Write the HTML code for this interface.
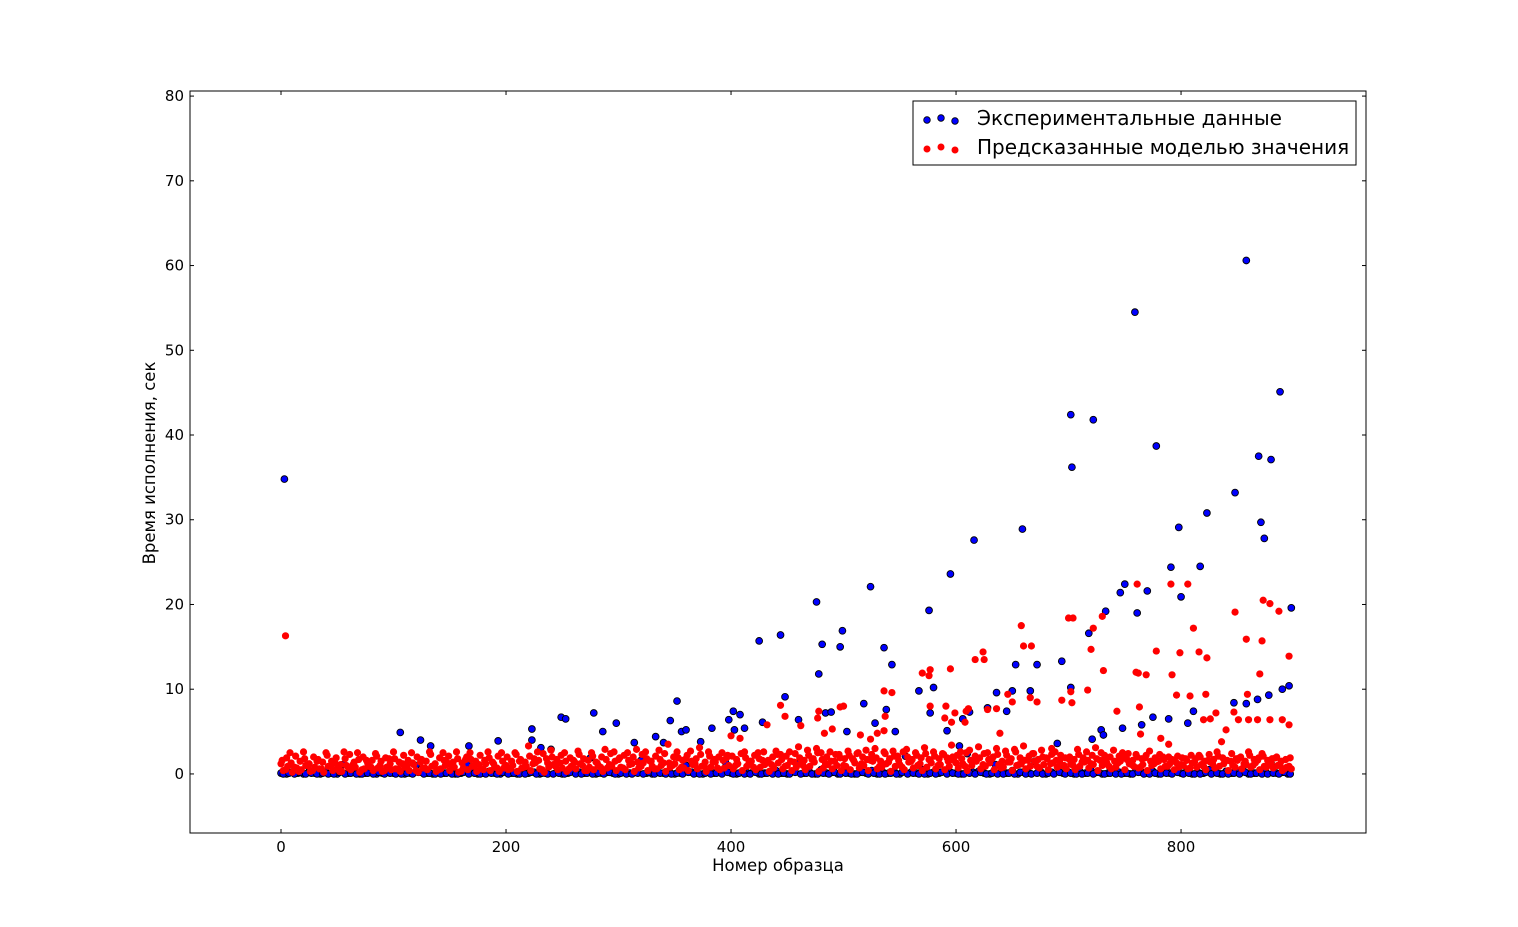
<!DOCTYPE html>
<html><head><meta charset="utf-8"><style>
body{margin:0;background:#fff}
svg{display:block;font-family:"DejaVu Sans","Liberation Sans",sans-serif}
</style></head><body>
<svg id="chart" width="1518" height="927" viewBox="0 0 1518 927">
<rect x="0" y="0" width="1518" height="927" fill="#fff"/>
<g id="marks"></g>
<rect x="190" y="91" width="1176" height="742" fill="none" stroke="#000" stroke-width="1"/>
<g id="axes"></g>
<text x="778" y="871" text-anchor="middle" font-size="16.5">Номер образца</text>
<text transform="translate(155,463) rotate(-90)" text-anchor="middle" font-size="16.5">Время исполнения, сек</text>
<g>
<rect x="913" y="101" width="443" height="64" fill="#fff" stroke="#000" stroke-width="1"/>
<g>
<circle cx="927" cy="120" r="3.3" fill="#0000ff" stroke="#000" stroke-width="0.8"/>
<circle cx="941" cy="118" r="3.3" fill="#0000ff" stroke="#000" stroke-width="0.8"/>
<circle cx="955" cy="121" r="3.3" fill="#0000ff" stroke="#000" stroke-width="0.8"/>
<text x="977" y="125" font-size="20">Экспериментальные данные</text>
</g>
<g>
<circle cx="927" cy="149" r="3.5" fill="#ff0000"/>
<circle cx="941" cy="147" r="3.5" fill="#ff0000"/>
<circle cx="955" cy="150" r="3.5" fill="#ff0000"/>
<text x="977" y="154" font-size="20">Предсказанные моделью значения</text>
</g>
</g>
</svg>
<script>
// ---- data ----
const xTicks = [0, 200, 400, 600, 800];
const yTicks = [0, 10, 20, 30, 40, 50, 60, 70, 80];
// blue (experimental) outliers
const blueOutX = [3,106,124,133,167,193,223,223,231,249,253,278,286,298,314,333,340,346,352,356,360,373,383,398,402,403,408,412,425,428,444,448,460,476,478,481,484,489,497,499,503,518,524,528,536,538,543,546,567,576,577,580,592,595,603,606,612,616,628,636,645,650,653,659,666,672,694,702,702,703,718,722,721,729,731,733,746,748,750,759,761,765,770,775,778,789,791,798,800,806,811,817,823,847,848,858,858,868,869,871,874,878,880,888,890,896,898];
const blueOutY = [34.8,4.9,4.0,3.3,3.3,3.9,5.3,4.0,3.1,6.7,6.5,7.2,5.0,6.0,3.7,4.4,3.7,6.3,8.6,5.0,5.2,3.8,5.4,6.4,7.4,5.2,7.0,5.4,15.7,6.1,16.4,9.1,6.4,20.3,11.8,15.3,7.2,7.3,15.0,16.9,5.0,8.3,22.1,6.0,14.9,7.6,12.9,5.0,9.8,19.3,7.2,10.2,5.1,23.6,3.3,6.5,7.3,27.6,7.8,9.6,7.4,9.8,12.9,28.9,9.8,12.9,13.3,10.2,42.4,36.2,16.6,41.8,4.1,5.2,4.6,19.2,21.4,5.4,22.4,54.5,19.0,5.8,21.6,6.7,38.7,6.5,24.4,29.1,20.9,6.0,7.4,24.5,30.8,8.4,33.2,60.6,8.3,8.8,37.5,29.7,27.8,9.3,37.1,45.1,10.0,10.4,19.6];
// blue baseline, samples 0,5,10,...,895
const blueBaseStart = 0, blueBaseStep = 5;
const blueBaseY = [0.1,0.0,0.2,0.1,0.0,0.3,0.1,0.0,0.2,0.1,0.0,1.1,0.1,0.2,0.0,0.1,0.3,0.0,0.1,0.2,
0.1,0.2,0.0,0.1,1.0,0.2,0.1,0.0,0.3,0.1,0.2,0.0,0.1,1.2,0.2,0.0,0.1,0.3,0.1,0.0,
0.2,0.1,0.0,0.3,0.1,0.2,0.0,0.1,2.9,0.2,0.0,0.1,0.3,0.2,0.1,1.9,0.0,0.1,0.2,0.1,
0.0,0.3,0.1,0.2,1.6,0.1,0.0,0.2,0.1,0.3,0.0,0.1,1.0,0.2,0.1,0.0,0.3,0.1,0.2,1.4,
0.1,0.0,0.2,0.1,0.3,0.0,0.1,0.2,0.4,0.1,0.0,0.3,1.2,0.1,0.2,0.0,0.5,0.1,0.2,0.0,
0.3,0.1,0.0,0.2,0.1,0.4,0.0,0.2,0.1,0.3,0.0,2.1,0.2,0.1,0.5,0.0,0.2,0.1,0.3,0.2,
0.1,0.0,2.4,0.2,0.3,0.1,0.0,1.1,0.2,0.1,0.4,0.0,0.2,0.1,1.5,0.3,0.0,0.2,3.6,0.1,
0.2,0.0,0.3,0.1,0.4,0.2,0.0,0.1,0.3,0.2,0.1,0.0,0.5,0.2,0.1,0.3,0.0,0.2,0.1,0.4,
0.1,0.3,0.0,0.2,0.1,0.5,0.2,0.0,0.3,0.1,0.2,0.4,0.0,0.1,0.2,0.3,1.3,0.1,0.2,0.0];
// blue baseline B, samples 2,7,12,...,897
const blueBaseBStart = 2, blueBaseBStep = 5;
const blueBaseBY = [0.0,0.1,0.0,0.2,0.0,0.1,0.0,0.1,0.0,0.0,0.2,0.0,0.1,0.0,0.0,0.1,0.0,0.2,0.0,0.1,
0.0,0.0,0.1,0.0,0.2,0.0,0.1,0.0,0.0,0.1,0.0,0.0,0.2,0.0,0.1,0.0,0.0,0.1,0.0,0.2,
0.0,0.1,0.0,0.0,0.2,0.0,0.1,0.0,0.0,0.1,0.0,0.2,0.0,0.0,0.1,0.0,0.1,0.0,0.2,0.0,
0.1,0.0,0.0,0.1,0.0,0.2,0.0,0.1,0.0,0.0,0.1,0.0,0.2,0.0,0.0,0.1,0.0,0.1,0.0,0.2,
0.0,0.1,0.0,0.0,0.2,0.0,0.1,0.0,0.0,0.1,0.0,0.2,0.0,0.1,0.0,0.0,0.1,0.0,0.2,0.0,
0.1,0.0,0.0,0.2,0.0,0.1,0.0,0.0,0.1,0.0,0.2,0.0,0.1,0.0,0.0,0.1,0.0,0.2,0.0,0.1,
0.0,0.0,0.1,0.0,0.2,0.0,0.1,0.0,0.0,0.1,0.0,0.2,0.0,0.0,0.1,0.0,0.1,0.0,0.2,0.0,
0.1,0.0,0.0,0.1,0.0,0.2,0.0,0.1,0.0,0.0,0.1,0.0,0.2,0.0,0.0,0.1,0.0,0.1,0.0,0.2,
0.0,0.1,0.0,0.0,0.2,0.0,0.1,0.0,0.0,0.1,0.0,0.2,0.0,0.1,0.0,0.0,0.1,0.0,0.2,0.0];
// red (predicted) outliers
const redOutX = [4,444,448,462,477,478,497,500,490,483,515,524,536,537,543,536,530,570,576,577,577,590,591,595,596,599,609,611,608,617,624,625,628,636,639,646,650,658,660,667,666,672,685,694,700,704,702,703,717,720,722,730,731,743,761,762,760,763,764,769,778,782,789,791,792,796,799,806,808,811,816,820,822,823,826,831,848,847,851,858,859,860,868,870,872,873,879,879,887,890,896,896];
const redOutY = [16.3,8.1,6.8,5.7,6.6,7.4,7.9,8.0,5.3,4.8,4.6,4.1,9.8,6.8,9.6,5.1,4.8,11.9,11.6,12.3,8.0,6.6,8.0,12.4,6.1,7.2,7.4,7.7,6.1,13.5,14.4,13.5,7.6,7.7,4.8,9.4,8.5,17.5,15.1,15.1,9.0,8.5,3.0,8.7,18.4,18.4,9.7,8.4,9.9,14.7,17.2,18.6,12.2,7.4,22.4,11.9,12.0,7.9,4.7,11.7,14.5,4.2,3.5,22.4,11.7,9.3,14.3,22.4,9.2,17.2,14.4,6.4,9.4,13.7,6.5,7.2,19.1,7.3,6.4,15.9,9.4,6.4,6.4,11.8,15.7,20.5,20.1,6.4,19.2,6.4,13.9,5.8];
// red baseline A, samples 0,4,8,...,896
const redBaseAStart = 0, redBaseAStep = 4;
const redBaseAY = [1.2,0.5,2.5,0.8,0.3,2.6,1.0,0.4,1.5,0.6,2.5,0.9,1.3,0.3,2.6,0.7,1.1,2.5,0.5,1.6,0.8,2.4,1.0,0.4,1.8,
2.6,0.6,1.2,0.9,2.5,0.4,1.4,0.7,2.6,1.0,0.5,2.5,1.3,0.8,2.6,0.3,1.7,2.5,0.9,1.1,0.5,2.6,1.4,0.7,2.5,
1.0,0.6,2.5,1.5,0.8,3.3,1.2,2.6,0.5,1.8,2.8,0.9,1.3,2.5,0.6,1.6,2.7,1.0,0.4,2.5,1.4,0.8,2.9,1.1,2.6,
1.7,0.7,2.5,1.2,2.9,0.9,2.6,1.5,0.6,2.8,1.3,3.5,1.0,2.6,0.8,1.8,2.7,1.2,3.1,0.9,2.6,1.4,0.7,2.5,1.9,
4.5,1.0,4.2,2.6,1.3,0.8,2.5,1.6,5.8,1.1,2.7,2.3,0.9,2.6,1.4,3.2,1.0,2.8,1.7,3.0,2.5,1.2,2.6,1.5,2.3,
1.0,2.7,1.8,2.4,1.2,2.8,1.6,3.0,0.9,2.6,1.4,2.7,2.1,0.8,2.9,1.5,2.5,1.2,3.1,1.7,2.6,1.0,2.4,1.9,3.4,
1.3,2.6,0.9,2.8,1.6,3.2,1.1,2.5,1.8,3.0,0.7,2.7,1.4,2.9,1.1,3.3,1.6,2.4,0.9,2.8,1.9,1.2,2.6,1.5,1.0,
1.8,1.0,2.9,1.4,2.6,1.2,3.1,1.6,2.2,0.9,2.8,1.3,2.5,1.7,1.1,2.3,0.8,1.9,2.7,1.2,1.5,2.0,0.9,1.7,1.3,
1.1,1.8,0.7,1.4,2.2,0.9,1.6,1.2,2.6,3.8,5.2,1.5,0.8,1.9,1.2,2.6,1.0,1.6,2.4,0.8,1.3,1.9,1.0,0.6,0.9];
// red baseline B, samples 2,6,10,...,898
const redBaseBStart = 2, redBaseBStep = 4;
const redBaseBY = [0.4,0.9,0.2,0.7,0.5,1.0,0.3,0.8,0.6,0.2,0.9,0.4,0.7,0.3,1.0,0.5,0.8,0.2,0.6,0.9,0.4,0.7,0.3,0.8,0.5,
0.6,0.3,0.8,0.4,1.1,0.2,0.7,0.5,0.9,0.3,0.6,1.0,0.4,0.8,0.2,0.7,0.5,0.9,0.3,0.6,1.2,0.4,0.8,0.3,0.7,
0.5,1.0,0.3,0.7,0.9,0.4,1.3,0.6,0.2,0.8,1.1,0.5,0.7,0.3,0.9,0.6,1.2,0.4,0.8,0.5,1.0,0.3,0.7,0.9,0.4,
0.8,0.5,1.1,0.3,0.7,1.3,0.4,0.9,0.6,1.0,0.3,0.8,1.2,0.5,0.7,0.4,1.1,0.6,0.9,0.3,0.8,1.4,0.5,0.7,1.0,
0.6,1.2,0.4,0.9,1.5,0.5,0.8,1.1,0.3,0.7,1.3,0.6,1.0,0.4,0.8,1.2,0.5,0.9,1.4,0.3,0.7,1.1,0.6,1.0,0.4,
0.9,0.5,1.3,0.7,1.0,0.4,1.5,0.6,0.8,1.2,0.3,0.9,1.1,0.5,1.4,0.7,1.0,0.4,0.8,1.3,0.6,1.1,0.5,0.9,1.6,
0.7,1.2,0.4,1.0,1.5,0.6,0.9,1.3,0.5,1.1,0.8,1.4,0.4,1.0,1.2,0.6,0.9,1.5,0.7,1.1,0.5,1.3,0.8,1.0,0.6,
1.2,0.5,0.9,1.4,0.7,1.1,0.4,1.0,1.3,0.6,0.8,1.5,0.5,1.2,0.9,0.7,1.1,0.4,1.0,1.4,0.6,0.9,1.2,0.5,0.8,
1.0,0.6,1.3,0.8,1.1,0.5,1.4,0.7,0.9,1.2,0.4,1.0,1.6,0.6,1.1,0.8,1.3,0.5,0.9,1.2,0.7,1.0,0.4,0.8,0.6];
// red baseline C, samples 1,5,9,...,897
const redBaseCStart = 1, redBaseCStep = 4;
const redBaseCY = [1.6,1.9,1.3,2.1,1.5,1.8,1.2,2.0,1.7,1.4,2.2,1.5,1.9,1.1,1.8,2.3,1.4,1.7,2.0,1.3,1.6,2.1,1.5,1.9,1.2,
1.8,1.4,2.2,1.6,1.3,2.0,1.7,1.5,2.3,1.2,1.9,1.6,2.1,1.4,1.8,1.3,2.0,1.7,1.5,2.2,1.6,1.9,1.2,2.1,1.5,
2.0,1.5,2.3,1.7,1.4,2.1,1.8,1.6,2.4,1.3,2.0,1.7,2.2,1.5,1.9,1.4,2.3,1.8,1.6,2.1,1.3,2.0,1.7,2.4,1.5,
1.9,2.2,1.6,2.0,1.4,2.3,1.8,1.5,2.1,1.7,2.4,1.3,2.0,1.9,1.6,2.2,1.5,1.8,2.3,1.4,2.1,1.7,2.0,1.6,2.2,
2.1,1.7,2.4,1.9,1.5,2.2,1.8,2.6,1.6,2.0,2.3,1.7,2.1,1.5,2.4,1.9,1.6,2.2,1.8,2.5,1.7,2.0,1.5,2.3,1.9,
1.8,2.2,1.6,2.5,2.0,1.7,2.3,1.9,1.5,2.4,1.8,2.1,1.6,2.6,2.0,1.7,2.2,1.9,2.4,1.6,2.1,1.8,2.3,1.5,2.0,
2.2,1.8,2.5,1.6,2.1,1.9,2.4,1.7,2.0,2.3,1.5,2.2,1.8,2.6,1.9,1.6,2.1,2.4,1.7,2.0,1.8,2.3,1.6,2.2,1.9,
2.0,1.7,2.3,1.9,1.6,2.2,1.8,2.5,1.7,2.0,1.5,2.1,1.9,2.4,1.6,2.0,1.8,2.2,1.5,1.9,2.3,1.7,2.0,1.6,2.1,
1.9,1.6,2.2,1.8,2.0,1.5,2.3,1.7,2.1,1.9,1.6,2.4,1.8,2.0,1.5,2.2,1.7,1.9,2.1,1.6,1.8,2.0,1.5,1.7,1.9];

// ---- axes ----
const X0 = 190, X1 = 1366, Y0 = 833, Y1 = 91;
const xMin = -80.9, xMax = 964.4, yMin = -6.97, yMax = 80.6;
const sx = v => X0 + (v - xMin) / (xMax - xMin) * (X1 - X0);
const sy = v => Y0 - (v - yMin) / (yMax - yMin) * (Y0 - Y1);
const NS = 'http://www.w3.org/2000/svg';
const marks = document.getElementById('marks');
const axes = document.getElementById('axes');

function mk(tag, attrs, parent) {
  const e = document.createElementNS(NS, tag);
  for (const k in attrs) e.setAttribute(k, attrs[k]);
  parent.appendChild(e);
  return e;
}

xTicks.forEach(t => {
  const x = sx(t);
  const g = mk('g', {}, axes);
  
  
  mk('line', {x1: x, x2: x, y1: Y0, y2: Y0 - 4, stroke: '#000'}, g);
  mk('line', {x1: x, x2: x, y1: Y1, y2: Y1 + 4, stroke: '#000'}, g);
  const tx = mk('text', {x: x, y: Y0 + 19, 'text-anchor': 'middle', 'font-size': 15}, g);
  tx.textContent = t;
});
yTicks.forEach(t => {
  const y = sy(t);
  const g = mk('g', {}, axes);
  
  
  mk('line', {x1: X0, x2: X0 + 4, y1: y, y2: y, stroke: '#000'}, g);
  mk('line', {x1: X1, x2: X1 - 4, y1: y, y2: y, stroke: '#000'}, g);
  const tx = mk('text', {x: X0 - 6, y: y + 5, 'text-anchor': 'end', 'font-size': 15}, g);
  tx.textContent = t;
});

function blueDot(xv, yv) {
  const c = mk('circle', {cx: sx(xv), cy: sy(yv), r: 3.4, fill: '#0000ff', stroke: '#000', 'stroke-width': 0.9}, marks);
  
  
}
function redDot(xv, yv) {
  const c = mk('circle', {cx: sx(xv), cy: sy(yv), r: 3.6, fill: '#ff0000'}, marks);
  
  
}
blueBaseY.forEach((v, i) => blueDot(blueBaseStart + i * blueBaseStep, v));
blueBaseBY.forEach((v, i) => blueDot(blueBaseBStart + i * blueBaseBStep, v));
blueOutX.forEach((x, i) => blueDot(x, blueOutY[i]));
redBaseBY.forEach((v, i) => redDot(redBaseBStart + i * redBaseBStep, v));
redBaseCY.forEach((v, i) => redDot(redBaseCStart + i * redBaseCStep, v));
redBaseAY.forEach((v, i) => redDot(redBaseAStart + i * redBaseAStep, v));
redOutX.forEach((x, i) => redDot(x, redOutY[i]));
</script>
</body></html>
